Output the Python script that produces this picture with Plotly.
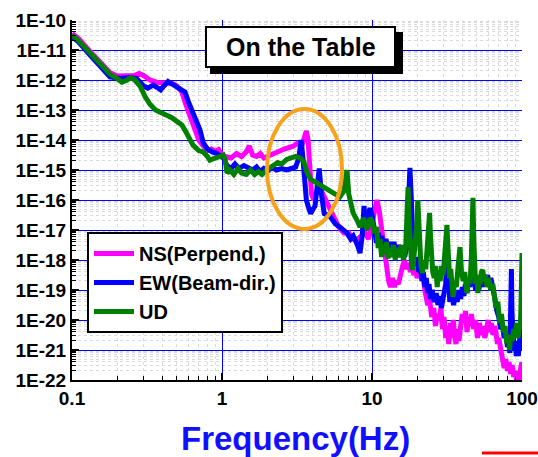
import numpy as np
import plotly.graph_objects as go

# ---------------- data (log10 of spectral value) ----------------
# NS (Perpend.)
ns_freq = [0.1, 0.11, 0.132, 0.155, 0.179, 0.2, 0.23, 0.26, 0.28, 0.3, 0.33, 0.37, 0.42, 0.47, 0.5,
           0.54, 0.57, 0.61, 0.65, 0.7, 0.75, 0.8, 0.85, 0.9, 0.95, 1.0, 1.05, 1.15, 1.25, 1.35,
           1.45, 1.52, 1.6, 1.7, 1.8, 1.9, 2.0, 2.2, 2.4, 2.6, 2.8, 3.0, 3.2, 3.4, 3.55, 3.65,
           3.75, 3.85, 3.95, 4.1, 4.3, 4.5, 4.8, 5.2, 5.6, 6.0, 6.5, 7.0, 7.5, 8.0, 8.5, 9.0,
           9.5, 10.0, 10.5, 10.8, 11.2, 11.6, 12.2, 12.6, 12.9, 13.3, 13.7, 14.1, 14.5, 15.0,
           15.5, 16.0, 16.5, 17.0, 17.5, 18.0, 18.5, 19.0, 19.5, 20.0, 20.5, 21.0, 21.5, 22.0,
           22.7, 23.5, 24.2, 25.0, 25.8, 26.5, 27.2, 28.0, 28.8, 29.5, 30.2, 31.0, 31.8, 32.5,
           33.3, 34.0, 34.8, 35.5, 36.3, 37.0, 38.0, 39.0, 40.0, 41.0, 42.0, 43.0, 44.0, 45.0,
           46.0, 47.5, 49.0, 50.5, 52.0, 53.5, 55.0, 56.5, 58.0, 59.5, 61.0, 62.5, 64.0, 65.5,
           67.0, 68.5, 70.0, 72.0, 74.0, 76.0, 78.0, 80.0, 82.0, 84.0, 86.0, 88.0, 90.0, 92.0,
           94.0, 96.0, 98.0, 100.0]
ns_log = [-10.45, -10.6, -11.05, -11.4, -11.75, -11.87, -11.88, -11.85, -11.78, -11.85, -12.0, -12.08,
          -12.1, -12.12, -12.2, -12.4, -12.77, -13.2, -13.56, -14.0, -14.2, -14.35, -14.3, -14.38,
          -14.32, -14.5, -14.55, -14.6, -14.45, -14.55, -14.4, -14.2, -14.5, -14.55, -14.45, -14.6,
          -14.55, -14.45, -14.35, -14.3, -14.25, -14.2, -14.1, -14.2, -13.9, -13.7, -14.0, -15.2,
          -15.8, -16.0, -15.7, -15.6, -15.9, -16.3, -16.6, -16.9, -17.1, -17.1, -17.3, -17.3,
          -17.2, -17.1,
          -17.3, -16.8, -16.2, -16.0, -16.4, -17.0, -17.8, -18.4, -18.7, -18.9, -18.6, -18.9,
          -18.7, -18.8, -18.4, -18.2, -18.0, -18.3, -18.1, -18.4, -18.2, -18.5, -18.3, -18.6,
          -18.4, -18.6, -18.3, -18.7, -19.1, -19.5, -19.3, -19.9, -19.6, -20.2, -19.8, -20.0,
          -19.6, -20.3, -19.9, -20.6, -20.2, -20.8, -20.1, -20.6, -20.0, -20.5, -20.8, -20.3,
          -20.7, -20.2, -19.8, -20.1, -19.7, -20.4, -19.9, -20.2, -19.8, -20.3, -20.0, -20.6,
          -20.1, -20.5, -20.2, -20.6, -20.3, -20.0, -20.4, -20.1, -20.5, -20.2, -20.4, -20.8,
          -20.6, -21.0, -21.2, -21.6, -21.3, -21.7, -21.4, -21.8, -21.5, -21.9, -21.7, -22.0,
          -21.8, -22.0, -21.6, -21.4]

# EW (Beam-dir.)
ew_freq = [0.1, 0.11, 0.132, 0.155, 0.179, 0.21, 0.24, 0.27, 0.3, 0.32, 0.347, 0.37, 0.39, 0.41,
           0.437, 0.47, 0.5, 0.53, 0.566, 0.6, 0.641, 0.68, 0.714, 0.75, 0.8, 0.86, 0.925, 0.98,
           1.02, 1.08, 1.15, 1.22, 1.3, 1.4, 1.5, 1.6, 1.7, 1.8, 1.9, 2.0, 2.15, 2.3, 2.5, 2.7,
           2.9, 3.1, 3.25, 3.37, 3.45, 3.55, 3.65, 3.8, 3.9, 4.05, 4.17, 4.3, 4.45, 4.6, 4.8,
           5.25, 5.7, 6.1, 6.5, 6.8, 7.2, 7.5, 8.0, 8.32, 8.6, 8.85, 9.1, 9.3, 9.7,
           10.0, 10.4, 10.7, 11.0, 11.3, 11.6, 12.0, 12.4, 12.8, 13.2, 13.6, 14.0, 14.5, 15.0,
           15.5, 16.0, 16.5, 17.0, 17.5, 17.9, 18.3, 18.8, 19.3, 19.8, 20.5, 21.0, 21.5, 22.0,
           22.5, 23.0, 23.5, 24.0, 24.5, 25.2, 26.0, 26.8, 27.5, 28.2, 29.0, 30.0, 31.0, 31.6,
           32.2, 33.0, 34.0, 35.0, 36.0, 37.0, 38.0, 39.0, 40.0, 41.0, 42.0, 43.0, 44.0, 45.0,
           46.0, 47.0, 48.0, 49.0, 50.0, 51.5, 53.0, 54.5, 56.0, 57.5, 59.0, 60.5, 62.0, 64.0,
           66.0, 68.0, 70.0, 72.0, 74.0, 76.0, 78.0, 80.0, 81.5, 83.0, 84.2, 85.0, 85.8, 87.0,
           88.5, 90.0, 91.5, 93.0, 94.5, 96.0, 97.5, 98.5, 100.0]
ew_log = [-10.55, -10.72, -11.17, -11.55, -11.9, -11.95, -11.92, -11.95, -12.2, -12.27, -12.17,
          -12.25, -12.33, -12.2, -12.05, -12.15, -12.22, -12.3, -12.4, -12.75, -13.1, -13.4,
          -13.67, -14.1, -14.3, -14.4, -14.45, -14.55, -14.6, -14.85, -14.95, -14.8, -14.95,
          -14.85, -14.95, -15.0, -14.9, -15.05, -14.95, -15.05, -14.9, -15.0, -14.95, -15.0,
          -14.95, -14.9, -14.6, -14.0, -14.5, -15.4, -16.0, -16.3, -16.45, -16.3, -16.2, -15.6,
          -14.95, -15.8, -16.45, -16.55, -16.8, -16.9, -17.0, -17.1, -17.3, -17.2, -17.5, -17.77,
          -17.2, -16.2, -17.0, -16.6, -16.27,
          -16.5, -17.0, -17.43, -17.1, -17.4, -17.2, -17.6, -17.3, -17.7, -17.4, -17.8, -17.4,
          -17.8, -17.5, -17.9, -17.6, -17.9, -17.6, -16.0, -14.93, -16.0, -17.8, -18.2, -17.9,
          -18.4, -18.2, -18.7, -18.4, -18.9, -18.6, -19.1, -18.8, -19.3, -19.0, -19.4, -19.1,
          -19.5, -19.2, -19.6, -19.1, -18.8, -17.4, -18.9, -19.4, -19.1, -19.5, -19.1, -19.4,
          -19.0, -19.3, -18.9, -19.2, -18.8, -19.1, -18.7, -18.9, -18.4, -17.2, -18.5, -19.0,
          -18.7, -19.0, -18.6, -18.9, -18.5, -18.8, -18.5, -18.9, -18.6, -19.1, -19.3, -19.7,
          -19.9, -20.3, -20.1, -20.6, -20.4, -20.9, -20.6, -21.1, -19.5, -18.3, -19.8, -20.8,
          -21.0, -20.7, -21.2, -20.9, -21.2, -20.8, -20.3, -20.6, -21.0]

# UD
ud_freq = [0.1, 0.11, 0.132, 0.155, 0.179, 0.2, 0.215, 0.23, 0.245, 0.26, 0.284, 0.307, 0.33,
           0.36, 0.386, 0.42, 0.46, 0.5, 0.54, 0.566, 0.6, 0.641, 0.7, 0.75, 0.8, 0.83, 0.88,
           0.925, 0.97, 1.02, 1.05, 1.08, 1.13, 1.2, 1.28, 1.35, 1.45, 1.55, 1.65, 1.75, 1.85,
           1.99, 2.1, 2.2, 2.35, 2.5, 2.7, 2.9, 3.1, 3.3, 3.5, 3.7, 3.9, 4.17, 4.5, 4.8, 5.25,
           5.7, 6.1, 6.5, 6.81, 7.0, 7.48, 8.0, 8.32, 8.8, 9.3, 9.7,
           10.0, 10.4, 10.7, 11.0, 11.3, 11.6, 11.9, 12.2, 12.5, 12.8, 13.1, 13.5, 13.9, 14.3,
           14.7, 15.2, 15.7, 16.2, 16.8, 17.1, 17.4, 17.7, 18.0, 18.4, 18.7, 19.1, 19.6, 19.9,
           20.2, 20.5, 20.8, 21.2, 21.7, 22.2, 22.8, 23.3, 23.8, 24.2, 24.6, 24.9, 25.4, 26.0,
           26.6, 27.2, 27.8, 28.5, 29.1, 29.8, 30.4, 31.0, 31.3, 31.6, 31.9, 32.3, 32.9, 33.5,
           34.1, 34.7, 35.5, 36.5, 37.5, 38.6, 39.5, 40.5, 41.5, 42.9, 44.0, 45.0, 45.9, 46.5,
           47.1, 47.7, 48.3, 49.0, 50.0, 50.8, 51.7, 52.5, 53.6, 54.8, 55.8, 57.0, 58.5, 60.0,
           61.8, 63.9, 65.5, 67.0, 69.0, 71.0, 73.0, 75.0, 77.0, 78.9, 80.5, 82.5, 84.0, 86.0,
           88.0, 90.0, 92.3, 94.0, 95.5, 97.5, 98.5, 99.3, 100.0]
ud_log = [-10.5, -10.68, -11.1, -11.45, -11.8, -11.95, -12.07, -12.02, -11.93, -11.98, -12.2,
          -12.55, -12.8, -13.0, -13.07, -13.18, -13.25, -13.38, -13.5, -13.67, -13.95, -14.17,
          -14.35, -14.4, -14.55, -14.67, -14.62, -14.6, -14.55, -14.5, -14.65, -15.1, -15.0,
          -15.15, -14.95, -15.1, -15.15, -15.0, -15.15, -15.05, -15.15, -15.0, -14.9, -14.85,
          -14.75, -14.8, -14.65, -14.6, -14.55, -14.6, -14.7, -15.1, -15.3, -15.4, -15.5, -15.55,
          -15.67, -15.8, -15.9, -15.7, -15.0, -15.8, -16.43, -16.7, -16.9, -16.6, -17.0, -16.6,
          -16.7, -17.1, -16.9, -17.6, -17.3, -17.9, -17.5, -17.8, -17.4, -17.95, -17.6, -17.9,
          -17.5, -18.0, -17.6, -17.9, -17.5, -18.0, -17.5, -16.5, -15.57, -16.8, -17.8, -18.2,
          -18.33, -17.8, -17.4, -16.8, -16.0, -17.0, -17.8, -18.2, -18.43, -18.0, -18.3, -17.6,
          -17.0, -16.43, -17.3, -17.8, -18.4, -18.6, -18.2, -18.9, -18.4, -18.7, -18.2, -18.5,
          -18.0, -17.6, -17.2, -16.83, -17.3, -18.2, -18.6, -18.3, -18.9, -19.23, -18.7, -18.9,
          -18.2, -17.57, -18.4, -18.7, -18.4, -19.1, -18.6, -18.8, -18.0, -17.3, -15.93, -17.3,
          -18.4, -18.8, -18.5, -19.1, -18.6, -18.8, -18.4, -18.33, -18.7, -18.5, -18.9, -18.6,
          -19.0, -18.8, -19.2, -19.6, -19.4, -20.1, -19.8, -20.4, -20.2, -20.77, -20.5, -21.0,
          -20.6, -20.7, -20.3, -20.5, -20.1, -20.6, -20.3, -20.2, -19.5, -18.5, -17.77]

series_names = ["NS(Perpend.)", "EW(Beam-dir.)", "UD"]
series_colors = ["#ff00ff", "#0000ff", "#008000"]

x_tickvals = [0.1, 1, 10, 100]
x_ticktext = ["0.1", "1", "10", "100"]
y_exponents = list(range(-10, -23, -1))
y_tickvals = [10.0 ** e for e in y_exponents]
y_ticktext = ["1E%d" % e for e in y_exponents]

FONT = "Liberation Sans, Arial, sans-serif"

fig = go.Figure()
for name, color, fr, lg in zip(series_names, series_colors,
                               [ns_freq, ew_freq, ud_freq], [ns_log, ew_log, ud_log]):
    fig.add_trace(go.Scatter(x=fr, y=np.power(10.0, np.array(lg)), mode="lines", name=name,
                             line=dict(color=color, width=5)))

# page body margin is removed (post_script below), so figure pixels == window pixels
W, H = 538, 457
L, R, T, B = 72, 16, 20, 77
pw, ph = W - L - R, H - T - B


def px(xs):  # screen pixel x -> paper
    return (xs - L) / pw


def py(ys):  # screen pixel y -> paper
    return (H - B - ys) / ph


fig.update_layout(
    width=W, height=H,
    margin=dict(l=L, r=R, t=T, b=B, pad=0, autoexpand=False),
    paper_bgcolor="white", plot_bgcolor="white",
    font=dict(family=FONT, color="black"),
    showlegend=True,
    legend=dict(x=px(87), y=py(232), xanchor="left", yanchor="top",
                bgcolor="white", bordercolor="black", borderwidth=2,
                font=dict(size=20, family=FONT, color="black", weight="bold"),
                tracegroupgap=0, itemwidth=40),
)

minor_common = dict(ticks="inside", ticklen=4, tickcolor="black", tickwidth=1,
                    showgrid=True, gridcolor="#dadada", griddash="dot", gridwidth=1)

fig.update_xaxes(type="log", range=[-1, 2], tickmode="array", tickvals=x_tickvals,
                 ticktext=x_ticktext, ticks="inside", ticklen=7, tickwidth=1.5, tickcolor="black",
                 showline=True, linecolor="black", linewidth=2, mirror=False, automargin=False,
                 showgrid=True, gridcolor="#0000ff", gridwidth=1, zeroline=False,
                 tickfont=dict(size=19, family=FONT, color="black", weight="bold"),
                 minor=dict(dtick="D1", **minor_common))
fig.update_yaxes(type="log", range=[-22, -10], tickmode="array", tickvals=y_tickvals,
                 ticktext=y_ticktext, ticks="inside", ticklen=7, tickwidth=1.5, tickcolor="black",
                 showline=True, linecolor="black", linewidth=2, mirror=False, automargin=False,
                 showgrid=True, gridcolor="#0000ff", gridwidth=1, zeroline=False,
                 tickfont=dict(size=19, family=FONT, color="black", weight="bold"),
                 minor=dict(dtick="D1", **minor_common))

shapes = [
    # shadow of the title box
    dict(type="rect", xref="paper", yref="paper", x0=px(210), x1=px(403), y0=py(32), y1=py(74),
         fillcolor="black", line=dict(width=0), layer="above"),
    # title box
    dict(type="rect", xref="paper", yref="paper", x0=px(206), x1=px(395), y0=py(27), y1=py(67),
         fillcolor="white", line=dict(color="black", width=2), layer="above"),
    # orange ellipse
    dict(type="circle", xref="paper", yref="paper", x0=px(267), x1=px(342), y0=py(109), y1=py(229),
         line=dict(color="#f7a21b", width=4), layer="above"),
    # red segment at bottom right
    dict(type="line", xref="paper", yref="paper", x0=px(482), x1=px(540), y0=py(453), y1=py(453),
         line=dict(color="#ff0000", width=3)),
]
fig.update_layout(shapes=shapes)

fig.add_annotation(text="On the Table", xref="paper", yref="paper", x=px(300.5), y=py(47),
                   xanchor="center", yanchor="middle", showarrow=False,
                   font=dict(size=25, family=FONT, color="black", weight="bold"))
fig.add_annotation(text="Frequency(Hz)", xref="paper", yref="paper", x=px(295), y=py(438),
                   xanchor="center", yanchor="middle", showarrow=False,
                   font=dict(size=33, family=FONT, color="#1010ff", weight="bold"))

fig.write_html("out.html", config={"displayModeBar": False},
               post_script="document.body.style.margin='0';document.body.style.overflow='hidden';")
